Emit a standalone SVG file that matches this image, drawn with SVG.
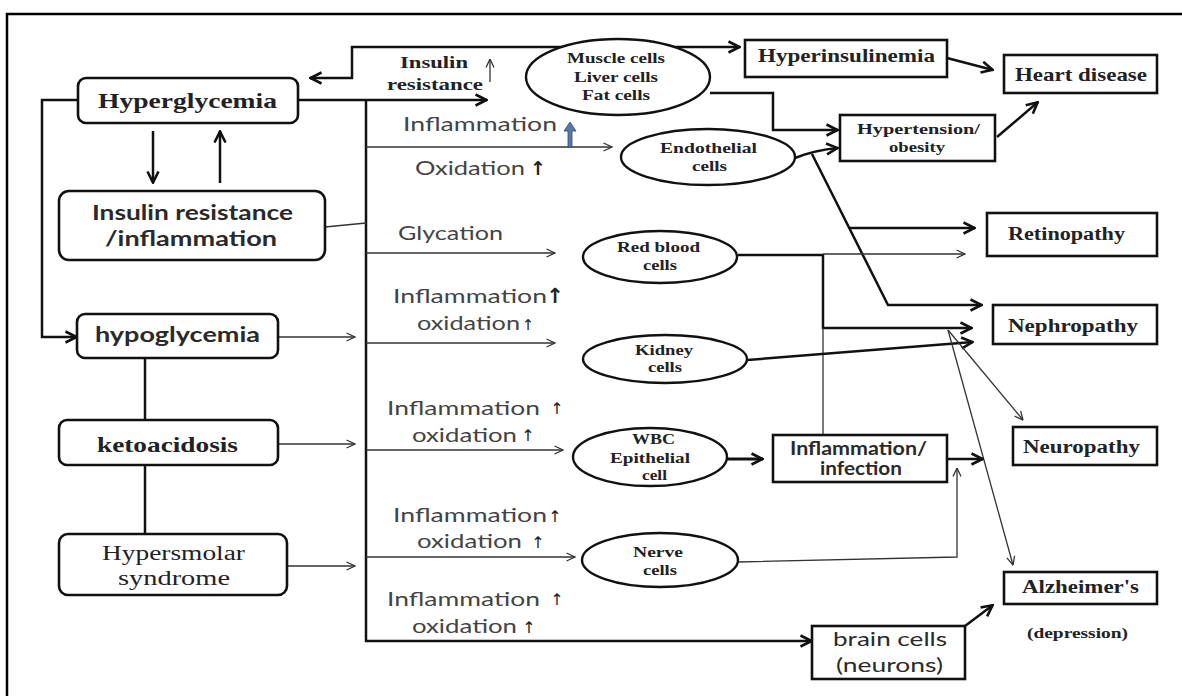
<svg xmlns="http://www.w3.org/2000/svg" width="1182" height="696" viewBox="0 0 1182 696">
<style>
.bx{fill:#fff;stroke:#111;stroke-width:2.6}
.el{fill:#fff;stroke:#111;stroke-width:2.4}
.k{fill:none;stroke:#111;stroke-width:2.5}
.k3{fill:none;stroke:#111;stroke-width:3.2}
.tn{fill:none;stroke:#333;stroke-width:1.3}
.sb{font-family:"Liberation Serif","Times New Roman",serif;font-weight:bold;fill:#222}
.sr{font-family:"Liberation Serif","Times New Roman",serif;fill:#222}
.nb{font-family:Lato,"Liberation Sans",sans-serif;font-weight:bold;fill:#2a2a2a}
.nr{font-family:Lato,"Liberation Sans",sans-serif;fill:#2a2a2a}
.g{font-family:Lato,"Liberation Sans",sans-serif;font-size:19px;fill:#444}
.ar{font-family:"DejaVu Sans",sans-serif;fill:#222;text-anchor:middle}
</style>
<defs>
<marker id="a" viewBox="0 0 14 14" refX="13" refY="7" markerWidth="14" markerHeight="14" markerUnits="userSpaceOnUse" orient="auto-start-reverse"><path d="M1.5,1.5 L12.5,7 L1.5,12.5" fill="none" stroke="#111" stroke-width="2.6"/></marker>
<marker id="t" viewBox="0 0 10 10" refX="9.5" refY="5" markerWidth="10" markerHeight="10" markerUnits="userSpaceOnUse" orient="auto"><path d="M1,1 L9.5,5 L1,9" fill="none" stroke="#333" stroke-width="1.3"/></marker>
</defs>
<rect width="1182" height="696" fill="#fff"/>
<path d="M7,696 V14 H1182" fill="none" stroke="#000" stroke-width="2.5"/>

<g id="connectors">
<path class="k" d="M298,100 H487" marker-end="url(#a)"/>
<path class="k" d="M366,100 V641 H812" marker-end="url(#a)"/>
<path class="k" d="M78,100 H42 V337 H77" marker-end="url(#a)"/>
<path class="k" d="M153,131 V183" marker-end="url(#a)"/>
<path class="k" d="M220,183 V131" marker-end="url(#a)"/>
<path class="k" d="M310,78 H352 V47 H740" marker-start="url(#a)" marker-end="url(#a)"/>
<path class="tn" d="M325,227 L366,223"/>
<path class="tn" d="M490,82 V59" marker-end="url(#t)"/>
<path class="tn" d="M366,147 H612" marker-end="url(#t)"/>
<path class="tn" d="M366,253 H555" marker-end="url(#t)"/>
<path class="tn" d="M366,343 H555" marker-end="url(#t)"/>
<path class="tn" d="M366,450 H563" marker-end="url(#t)"/>
<path class="tn" d="M366,557 H575" marker-end="url(#t)"/>
<path class="tn" d="M278,337 H355" marker-end="url(#t)"/>
<path class="tn" d="M278,444 H355" marker-end="url(#t)"/>
<path class="tn" d="M287,566 H355" marker-end="url(#t)"/>
<path class="k" d="M145,358 V420"/>
<path class="k" d="M145,465 V534"/>
<path class="k" d="M710,93 H773 V130 H838" marker-end="url(#a)"/>
<path class="k" d="M795,158 Q815,150 838,148" marker-end="url(#a)"/>
<path class="k" d="M812,154 L888,305 H982" marker-end="url(#a)"/>
<path class="k" d="M850,228 H975" marker-end="url(#a)"/>
<path class="k" d="M738,255 H823 V328 H972" marker-end="url(#a)"/>
<path class="tn" d="M823,254 H965" marker-end="url(#t)"/>
<path class="tn" d="M823,328 V435"/>
<path class="k" d="M747,360 L973,342" marker-end="url(#a)"/>
<path class="tn" d="M948,330 L1023,420" marker-end="url(#t)"/>
<path class="tn" d="M948,330 L1013,565" marker-end="url(#t)"/>
<path class="k3" d="M727,459 H763" marker-end="url(#a)"/>
<path class="k" d="M947,459 H983" marker-end="url(#a)"/>
<path class="tn" d="M738,562 L957,557 V468" marker-end="url(#t)"/>
<path class="k" d="M947,58 L993,70" marker-end="url(#a)"/>
<path class="k" d="M997,137 L1038,102" marker-end="url(#a)"/>
<path class="k" d="M965,626 L993,605" marker-end="url(#a)"/>
</g>

<g id="labels">
<text class="sb" x="400" y="68" font-size="17" textLength="68" lengthAdjust="spacingAndGlyphs">Insulin</text>
<text class="sb" x="387" y="90" font-size="17" textLength="96" lengthAdjust="spacingAndGlyphs">resistance</text>
<text class="g" x="403" y="131" textLength="154" lengthAdjust="spacingAndGlyphs">Inflammation</text>
<polygon points="568,147 568,131 564,131 570,122 576,131 572,131 572,147" fill="#5a78a8" stroke="#2f4770" stroke-width="0.8"/>
<text class="g" x="415" y="175" textLength="110" lengthAdjust="spacingAndGlyphs">Oxidation</text>
<text class="ar" x="538" y="175" font-size="19" font-weight="bold">↑</text>
<text class="g" x="398" y="240" textLength="105" lengthAdjust="spacingAndGlyphs">Glycation</text>
<text class="g" x="393" y="303" textLength="154" lengthAdjust="spacingAndGlyphs">Inflammation</text>
<text class="ar" x="555" y="303" font-size="21" font-weight="bold">↑</text>
<text class="g" x="417" y="330" textLength="103" lengthAdjust="spacingAndGlyphs">oxidation</text>
<text class="ar" x="528" y="330" font-size="15">↑</text>
<text class="g" x="387" y="415" textLength="153" lengthAdjust="spacingAndGlyphs">Inflammation</text>
<text class="ar" x="557" y="414" font-size="16">↑</text>
<text class="g" x="412" y="442" textLength="105" lengthAdjust="spacingAndGlyphs">oxidation</text>
<text class="ar" x="528" y="441" font-size="16">↑</text>
<text class="g" x="393" y="522" textLength="154" lengthAdjust="spacingAndGlyphs">Inflammation</text>
<text class="ar" x="555" y="522" font-size="16">↑</text>
<text class="g" x="417" y="548" textLength="105" lengthAdjust="spacingAndGlyphs">oxidation</text>
<text class="ar" x="538" y="548" font-size="16">↑</text>
<text class="g" x="387" y="606" textLength="153" lengthAdjust="spacingAndGlyphs">Inflammation</text>
<text class="ar" x="557" y="605" font-size="16">↑</text>
<text class="g" x="412" y="633" textLength="105" lengthAdjust="spacingAndGlyphs">oxidation</text>
<text class="ar" x="529" y="633" font-size="16">↑</text>
<text class="sb" x="1027" y="638" font-size="14" textLength="101" lengthAdjust="spacingAndGlyphs">(depression)</text>
</g>

<g id="hyperglycemia"><rect class="bx" x="78" y="78" width="220" height="45" rx="8"/><text class="sb" x="98" y="108" font-size="22" textLength="179" lengthAdjust="spacingAndGlyphs">Hyperglycemia</text></g>
<g id="insulin-resistance"><rect class="bx" x="59" y="191" width="266" height="69" rx="10"/><text class="nb" x="92" y="220" font-size="20" textLength="201" lengthAdjust="spacingAndGlyphs">Insulin resistance</text><text class="nb" x="105" y="246" font-size="20" textLength="172" lengthAdjust="spacingAndGlyphs">/inflammation</text></g>
<g id="hypoglycemia"><rect class="bx" x="77" y="314" width="201" height="44" rx="8"/><text class="nb" x="95" y="342" font-size="20" textLength="165" lengthAdjust="spacingAndGlyphs">hypoglycemia</text></g>
<g id="ketoacidosis"><rect class="bx" x="59" y="420" width="219" height="45" rx="8"/><text class="sb" x="97" y="452" font-size="21" textLength="141" lengthAdjust="spacingAndGlyphs">ketoacidosis</text></g>
<g id="hypersmolar"><rect class="bx" x="59" y="534" width="228" height="61" rx="9"/><text class="sr" x="102" y="560" font-size="20" textLength="143" lengthAdjust="spacingAndGlyphs">Hypersmolar</text><text class="sr" x="118" y="585" font-size="20" textLength="112" lengthAdjust="spacingAndGlyphs">syndrome</text></g>
<g id="muscle"><ellipse class="el" cx="618" cy="77" rx="92" ry="38"/><text class="sb" x="567" y="63" font-size="15" textLength="98" lengthAdjust="spacingAndGlyphs">Muscle cells</text><text class="sb" x="574" y="82" font-size="15" textLength="84" lengthAdjust="spacingAndGlyphs">Liver cells</text><text class="sb" x="582" y="100" font-size="15" textLength="68" lengthAdjust="spacingAndGlyphs">Fat cells</text></g>
<g id="hyperinsulinemia"><rect class="bx" x="745" y="40" width="202" height="37"/><text class="sb" x="758" y="62" font-size="18" textLength="177" lengthAdjust="spacingAndGlyphs">Hyperinsulinemia</text></g>
<g id="heart"><rect class="bx" x="1004" y="55" width="153" height="38"/><text class="sb" x="1015" y="81" font-size="19" textLength="132" lengthAdjust="spacingAndGlyphs">Heart disease</text></g>
<g id="hypertension"><rect class="bx" x="840" y="115" width="155" height="46"/><text class="sb" x="857" y="134" font-size="15" textLength="123" lengthAdjust="spacingAndGlyphs">Hypertension/</text><text class="sb" x="889" y="152" font-size="15" textLength="56" lengthAdjust="spacingAndGlyphs">obesity</text></g>
<g id="endothelial"><ellipse class="el" cx="708" cy="157" rx="87" ry="28"/><text class="sb" x="660" y="153" font-size="15" textLength="97" lengthAdjust="spacingAndGlyphs">Endothelial</text><text class="sb" x="692" y="171" font-size="15" textLength="35" lengthAdjust="spacingAndGlyphs">cells</text></g>
<g id="retinopathy"><rect class="bx" x="987" y="213" width="170" height="43"/><text class="sb" x="1008" y="240" font-size="18" textLength="117" lengthAdjust="spacingAndGlyphs">Retinopathy</text></g>
<g id="rbc"><ellipse class="el" cx="660" cy="257" rx="77" ry="26"/><text class="sb" x="617" y="252" font-size="15" textLength="83" lengthAdjust="spacingAndGlyphs">Red blood</text><text class="sb" x="643" y="270" font-size="15" textLength="34" lengthAdjust="spacingAndGlyphs">cells</text></g>
<g id="nephropathy"><rect class="bx" x="993" y="305" width="164" height="39"/><text class="sb" x="1008" y="332" font-size="19" textLength="130" lengthAdjust="spacingAndGlyphs">Nephropathy</text></g>
<g id="kidney"><ellipse class="el" cx="665" cy="359" rx="82" ry="24"/><text class="sb" x="635" y="355" font-size="15" textLength="58" lengthAdjust="spacingAndGlyphs">Kidney</text><text class="sb" x="648" y="372" font-size="15" textLength="34" lengthAdjust="spacingAndGlyphs">cells</text></g>
<g id="neuropathy"><rect class="bx" x="1013" y="427" width="144" height="38"/><text class="sb" x="1023" y="453" font-size="18" textLength="117" lengthAdjust="spacingAndGlyphs">Neuropathy</text></g>
<g id="wbc"><ellipse class="el" cx="650" cy="457" rx="77" ry="29"/><text class="sb" x="632" y="444" font-size="15" textLength="43" lengthAdjust="spacingAndGlyphs">WBC</text><text class="sb" x="610" y="463" font-size="15" textLength="80" lengthAdjust="spacingAndGlyphs">Epithelial</text><text class="sb" x="642" y="480" font-size="15" textLength="25" lengthAdjust="spacingAndGlyphs">cell</text></g>
<g id="inflammation-infection"><rect class="bx" x="773" y="435" width="174" height="47"/><text class="nb" x="790" y="455" font-size="18" textLength="137" lengthAdjust="spacingAndGlyphs">Inflammation/</text><text class="nb" x="820" y="475" font-size="18" textLength="82" lengthAdjust="spacingAndGlyphs">infection</text></g>
<g id="nerve"><ellipse class="el" cx="660" cy="560" rx="78" ry="27"/><text class="sb" x="633" y="557" font-size="15" textLength="50" lengthAdjust="spacingAndGlyphs">Nerve</text><text class="sb" x="643" y="575" font-size="15" textLength="34" lengthAdjust="spacingAndGlyphs">cells</text></g>
<g id="alzheimers"><rect class="bx" x="1004" y="572" width="153" height="32"/><text class="sb" x="1022" y="593" font-size="18" textLength="117" lengthAdjust="spacingAndGlyphs">Alzheimer's</text></g>
<g id="brain"><rect class="bx" x="812" y="626" width="153" height="53"/><text class="nr" x="833" y="646" font-size="20" textLength="114" lengthAdjust="spacingAndGlyphs">brain cells</text><text class="nr" x="836" y="672" font-size="20" textLength="107" lengthAdjust="spacingAndGlyphs">(neurons)</text></g>
</svg>
